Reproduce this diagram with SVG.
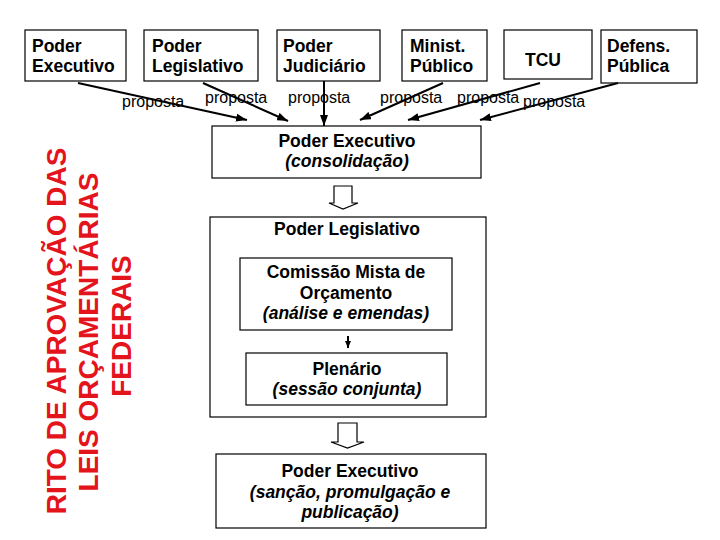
<svg xmlns="http://www.w3.org/2000/svg" width="720" height="540" viewBox="0 0 720 540">
<defs>
<style>
.box{fill:#fff;stroke:#000;stroke-width:1.2}
.t{font-family:"Liberation Sans",Arial,sans-serif;font-weight:bold;font-size:17.5px;fill:#000}
.c{text-anchor:middle}
.i{font-style:italic}
.lbl{font-family:"Liberation Sans",Arial,sans-serif;font-size:16px;fill:#000}
.ln{stroke:#000;stroke-width:2;fill:none}
.blk{fill:#fff;stroke:#000;stroke-width:1.2}
.title{font-family:"Liberation Sans",Arial,sans-serif;font-weight:bold;font-size:28px;fill:#e3141b;text-anchor:middle}
</style>
<marker id="ah" markerUnits="userSpaceOnUse" markerWidth="11" markerHeight="8" refX="11" refY="4" orient="auto">
<path d="M0,0 L11,4 L0,8 z" fill="#000"/>
</marker>
<marker id="ahs" markerUnits="userSpaceOnUse" markerWidth="7" markerHeight="6" refX="7" refY="3" orient="auto">
<path d="M0,0 L7,3 L0,6 z" fill="#000"/>
</marker>
</defs>
<rect width="720" height="540" fill="#fff"/>

<g id="title">
<text class="title" transform="translate(66,331) rotate(-90)">RITO DE APROVAÇÃO DAS</text>
<text class="title" transform="translate(98,332) rotate(-90)">LEIS ORÇAMENTÁRIAS</text>
<text class="title" transform="translate(131,326) rotate(-90)">FEDERAIS</text>
</g>

<g id="n-executivo">
<rect class="box" x="25" y="30" width="101" height="51"/>
<text class="t" x="32" y="52">Poder</text>
<text class="t" x="32" y="72">Executivo</text>
</g>
<g id="n-legislativo">
<rect class="box" x="144" y="30" width="114" height="51"/>
<text class="t" x="152" y="52">Poder</text>
<text class="t" x="152" y="72">Legislativo</text>
</g>
<g id="n-judiciario">
<rect class="box" x="277" y="30" width="103" height="51"/>
<text class="t" x="283" y="52">Poder</text>
<text class="t" x="283" y="72">Judiciário</text>
</g>
<g id="n-ministerio">
<rect class="box" x="402" y="30" width="85" height="51"/>
<text class="t" x="410" y="52">Minist.</text>
<text class="t" x="410" y="72">Público</text>
</g>
<g id="n-tcu">
<rect class="box" x="504" y="30" width="88" height="49"/>
<text class="t c" x="543" y="66">TCU</text>
</g>
<g id="n-defensoria">
<rect class="box" x="601" y="30" width="96" height="53"/>
<text class="t" x="607" y="52">Defens.</text>
<text class="t" x="607" y="72">Pública</text>
</g>

<g id="n-consolidacao">
<rect class="box" x="212" y="126" width="269" height="52"/>
<text class="t c" x="347" y="147">Poder Executivo</text>
<text class="t c i" x="347" y="167">(consolidação)</text>
</g>

<g id="n-poder-legislativo">
<rect class="box" x="210" y="217" width="276" height="200"/>
<text class="t c" x="347" y="235">Poder Legislativo</text>
</g>

<g id="n-comissao">
<rect class="box" x="240" y="258" width="212" height="72"/>
<text class="t c" x="346" y="278">Comissão Mista de</text>
<text class="t c" x="346" y="299">Orçamento</text>
<text class="t c i" x="346" y="319">(análise e emendas)</text>
</g>

<g id="n-plenario">
<rect class="box" x="246" y="353" width="201" height="52"/>
<text class="t c" x="347" y="375">Plenário</text>
<text class="t c i" x="347" y="395">(sessão conjunta)</text>
</g>

<g id="n-sancao">
<rect class="box" x="216" y="454" width="270" height="74"/>
<text class="t c" x="350" y="477">Poder Executivo</text>
<text class="t c i" x="350" y="498">(sanção, promulgação e</text>
<text class="t c i" x="350" y="518">publicação)</text>
</g>

<g id="connectors">
<text class="lbl" x="122" y="107">proposta</text>
<text class="lbl" x="205" y="103">proposta</text>
<text class="lbl" x="288" y="103">proposta</text>
<text class="lbl" x="380" y="103">proposta</text>
<text class="lbl" x="457" y="103">proposta</text>
<text class="lbl" x="523" y="107">proposta</text>
<line class="ln" x1="78" y1="83" x2="247" y2="120" marker-end="url(#ah)"/>
<line class="ln" x1="203" y1="83" x2="288" y2="121" marker-end="url(#ah)"/>
<line class="ln" x1="324" y1="81" x2="324" y2="126" marker-end="url(#ah)"/>
<line class="ln" x1="443" y1="83" x2="360" y2="120" marker-end="url(#ah)"/>
<line class="ln" x1="540" y1="83" x2="408" y2="120" marker-end="url(#ah)"/>
<line class="ln" x1="618" y1="83" x2="480" y2="120" marker-end="url(#ah)"/>
<polygon class="blk" points="334,186 352,186 352,203 358,203 343,209 329,203 334,203"/>
<line class="ln" x1="348" y1="336" x2="348" y2="348" marker-end="url(#ahs)"/>
<polygon class="blk" points="338,423 357,423 357,442 364,442 347.5,448 331,442 338,442"/>
</g>
</svg>
